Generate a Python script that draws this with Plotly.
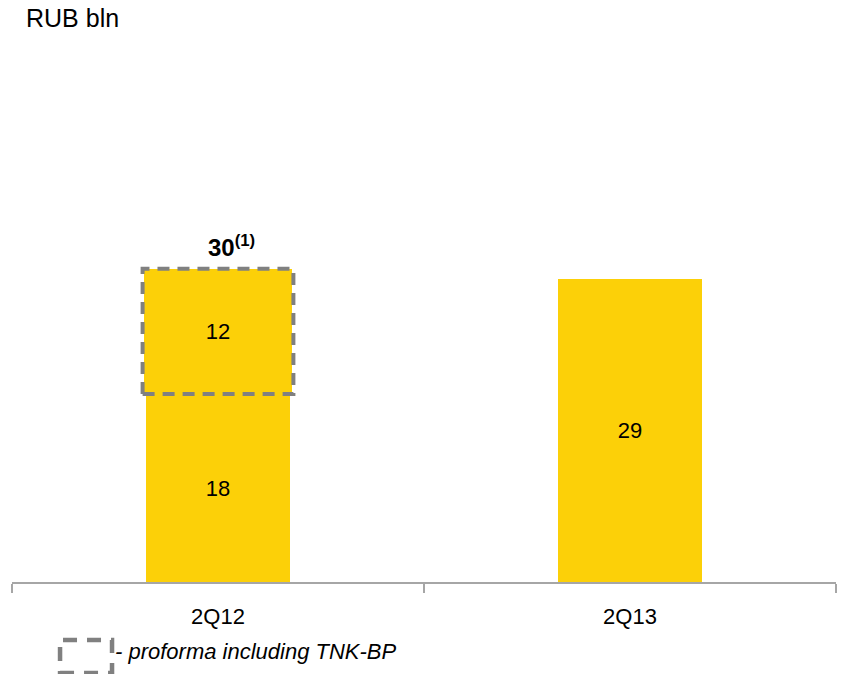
import plotly.graph_objects as go

# Quarterly values, RUB bln
categories = ["2Q12", "2Q13"]
base_values = [18, 29]          # reported figure
tnk_addon = [12, None]          # proforma TNK-BP contribution (2Q12 only)
total_label = ["30<sup>(1)</sup>", None]

YELLOW = "#FCD008"
GREY = "#808080"
FONT = "Liberation Sans, Arial"
BAR_W = 0.35

fig = go.Figure()
fig.add_trace(go.Bar(
    x=categories, y=base_values, width=BAR_W,
    marker=dict(color=YELLOW, line=dict(width=0)),
    text=[str(v) for v in base_values], textposition="inside",
    insidetextanchor="middle",
    textfont=dict(family=FONT, size=22, color="black"),
    hoverinfo="skip",
))
fig.add_trace(go.Bar(
    x=categories, y=tnk_addon, width=BAR_W + 0.01,
    marker=dict(color=YELLOW, line=dict(width=0)),
    text=[str(v) if v else "" for v in tnk_addon], textposition="inside",
    insidetextanchor="middle",
    textfont=dict(family=FONT, size=22, color="black"),
    hoverinfo="skip",
))

# Dashed outline around the proforma segment and total label above it
for i, add in enumerate(tnk_addon):
    if add:
        top = base_values[i] + add
        fig.add_shape(type="rect", xref="x", yref="y",
                      x0=i - BAR_W / 2 - 0.008, x1=i + BAR_W / 2 + 0.008,
                      y0=base_values[i], y1=top,
                      line=dict(color=GREY, width=4, dash="12px,8px"))
        fig.add_annotation(x=categories[i], y=top, yshift=6, xshift=13,
                           yanchor="bottom",
                           text="<b>" + total_label[i] + "</b>", showarrow=False,
                           font=dict(family=FONT, size=24, color="black"))

# Legend key for the dashed outline
fig.add_shape(type="rect", xref="paper", yref="paper",
              x0=0.0583, x1=0.1214, y0=-0.1743, y1=-0.1111,
              line=dict(color=GREY, width=4.5, dash="14px,10px"))
fig.add_annotation(xref="paper", yref="paper", x=0.1226, y=-0.134,
                   xanchor="left", yanchor="middle", showarrow=False,
                   text="<i>- proforma including TNK-BP</i>",
                   font=dict(family=FONT, size=22, color="black"))

# Unit title
fig.add_annotation(xref="paper", yref="paper", x=0.014, y=1.0, yshift=42,
                   xanchor="left", yanchor="middle", showarrow=False,
                   text="RUB bln",
                   font=dict(family=FONT, size=25, color="black"))

fig.update_layout(
    width=844, height=674,
    margin=dict(l=12, r=8, t=60, b=92),
    barmode="stack", showlegend=False,
    plot_bgcolor="white", paper_bgcolor="white",
    xaxis=dict(showline=True, linecolor="#A6A6A6", linewidth=1.5,
               ticks="outside", tickson="boundaries", ticklen=9,
               tickcolor="#A6A6A6", tickwidth=1.5,
               ticklabelstandoff=14,
               showgrid=False, range=[-0.5, 1.5],
               tickfont=dict(family=FONT, size=22, color="black")),
    yaxis=dict(visible=False, range=[0, 50], showgrid=False, zeroline=False),
)

fig.write_html("out.html")
